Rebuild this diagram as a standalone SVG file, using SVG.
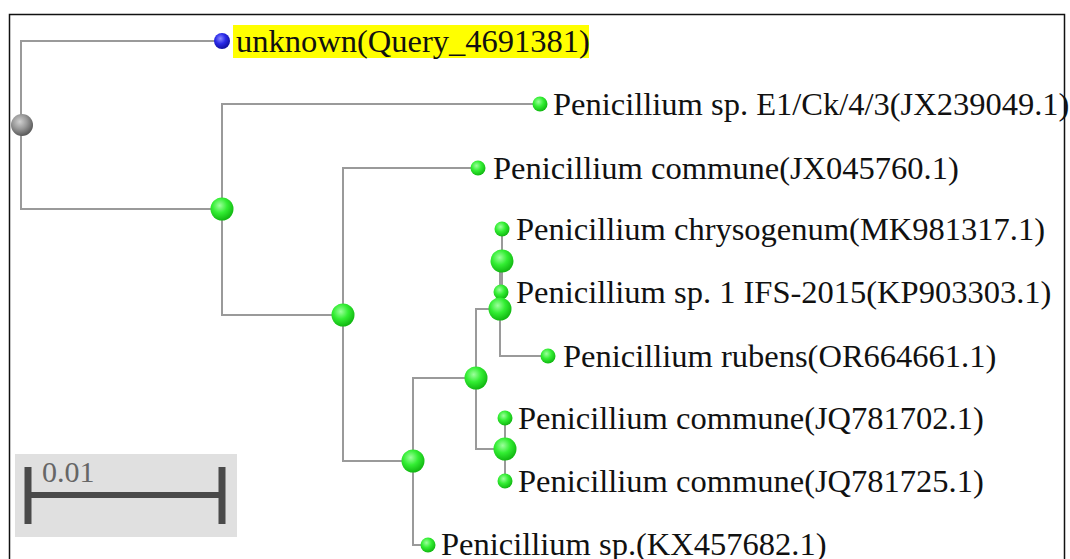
<svg xmlns="http://www.w3.org/2000/svg" width="1070" height="559" viewBox="0 0 1070 559">
<defs>
<radialGradient id="gGreen" cx="0.4" cy="0.35" r="0.65">
<stop offset="0" stop-color="#9dff9d"/>
<stop offset="0.5" stop-color="#33ee33"/>
<stop offset="1" stop-color="#12b812"/>
</radialGradient>
<radialGradient id="gBlue" cx="0.4" cy="0.35" r="0.65">
<stop offset="0" stop-color="#8a8aff"/>
<stop offset="0.5" stop-color="#2a2ae8"/>
<stop offset="1" stop-color="#1010a0"/>
</radialGradient>
<radialGradient id="gGray" cx="0.4" cy="0.35" r="0.65">
<stop offset="0" stop-color="#d0d0d0"/>
<stop offset="0.5" stop-color="#9a9a9a"/>
<stop offset="1" stop-color="#5a5a5a"/>
</radialGradient>
</defs>
<style>
.br{fill:none;stroke:#9a9a9a;stroke-width:2}
.lab{font-family:"Liberation Serif","Times New Roman",serif;font-size:32.5px;fill:#111}
.big{fill:url(#gGreen)}
.leaf{fill:url(#gGreen)}
</style>
<rect x="0" y="0" width="1070" height="559" fill="#fff"/>
<path d="M9.5 559 V14.5 H1064.5 V559" fill="none" stroke="#111" stroke-width="1.5"/>
<g id="connectors">
<path class="br" d="M222 41 H21 V209 H222"/>
<path class="br" d="M540 104 H222 V315 H343"/>
<path class="br" d="M478 168 H343 V461 H413"/>
<path class="br" d="M476 378 H413 V545 H428"/>
<path class="br" d="M500 309 H476 V449 H505"/>
<path class="br" d="M502 261 H500 V356 H548"/>
<path class="br" d="M502 229 V293"/>
<path class="br" d="M505 418 V481"/>
</g>
<g id="scalebar">
<rect x="15" y="454" width="222" height="83" fill="#e0e0e0"/>
<line x1="28" y1="495" x2="222" y2="495" stroke="#4a4a4a" stroke-width="6"/>
<line x1="28" y1="467" x2="28" y2="524" stroke="#4a4a4a" stroke-width="7"/>
<line x1="222" y1="467" x2="222" y2="524" stroke="#4a4a4a" stroke-width="7"/>
<text x="42" y="482" font-family="Liberation Serif,serif" font-size="30" fill="#666">0.01</text>
</g>
<g id="root"><circle cx="22" cy="125" r="11" fill="url(#gGray)"/></g>
<g id="query">
<rect x="233" y="25" width="356" height="33" fill="#ffff00"/>
<circle cx="222" cy="41" r="8" fill="url(#gBlue)"/>
<text class="lab" x="236" y="52">unknown(Query_4691381)</text>
</g>
<g id="nodeA"><circle class="big" cx="222" cy="209" r="11.5"/></g>
<g id="nodeB"><circle class="big" cx="343" cy="315" r="11.5"/></g>
<g id="nodeC"><circle class="big" cx="413" cy="461" r="11.5"/></g>
<g id="nodeD"><circle class="big" cx="476" cy="378" r="11.5"/></g>
<g id="nodeF"><circle class="big" cx="502" cy="261" r="11.5"/></g>
<g id="leaf_KP903303">
<circle class="leaf" cx="501" cy="292" r="7.5"/>
<text class="lab" x="516" y="303">Penicillium sp. 1 IFS-2015(KP903303.1)</text>
</g>
<g id="nodeE"><circle class="big" cx="500" cy="309" r="11.5"/></g>
<g id="nodeG"><circle class="big" cx="505" cy="449" r="11.5"/></g>
<g id="leaf_JX239049">
<circle class="leaf" cx="540" cy="104" r="7.5"/>
<text class="lab" x="553" y="115">Penicillium sp. E1/Ck/4/3(JX239049.1)</text>
</g>
<g id="leaf_JX045760">
<circle class="leaf" cx="478" cy="168" r="7.5"/>
<text class="lab" x="493" y="179">Penicillium commune(JX045760.1)</text>
</g>
<g id="leaf_MK981317">
<circle class="leaf" cx="502" cy="229" r="7.5"/>
<text class="lab" x="516" y="240">Penicillium chrysogenum(MK981317.1)</text>
</g>
<g id="leaf_OR664661">
<circle class="leaf" cx="548" cy="356" r="7.5"/>
<text class="lab" x="563" y="367">Penicillium rubens(OR664661.1)</text>
</g>
<g id="leaf_JQ781702">
<circle class="leaf" cx="505" cy="418" r="7.5"/>
<text class="lab" x="518" y="429">Penicillium commune(JQ781702.1)</text>
</g>
<g id="leaf_JQ781725">
<circle class="leaf" cx="505" cy="481" r="7.5"/>
<text class="lab" x="518" y="492">Penicillium commune(JQ781725.1)</text>
</g>
<g id="leaf_KX457682">
<circle class="leaf" cx="428" cy="545" r="7.5"/>
<text class="lab" x="441" y="555">Penicillium sp.(KX457682.1)</text>
</g>
</svg>
